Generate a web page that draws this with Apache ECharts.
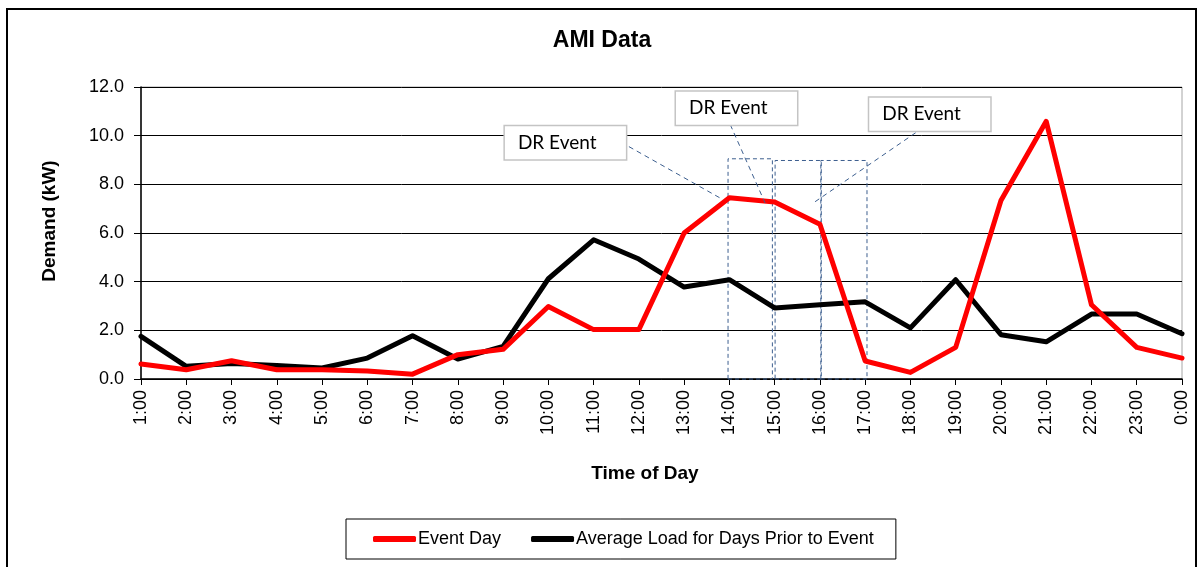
<!DOCTYPE html>
<html>
<head>
<meta charset="utf-8">
<title>AMI Data</title>
<script src="https://cdn.jsdelivr.net/npm/echarts@6/dist/echarts.min.js"></script>
<style>
  html, body { margin: 0; padding: 0; background: #fff; }
  #ami_chart { width: 1204px; height: 567px; }
</style>
</head>
<body>
<div id="ami_chart"></div>
<script>
// hours on the x axis
const hours = ["1:00", "2:00", "3:00", "4:00", "5:00", "6:00", "7:00", "8:00", "9:00", "10:00", "11:00", "12:00",
  "13:00", "14:00", "15:00", "16:00", "17:00", "18:00", "19:00", "20:00", "21:00", "22:00", "23:00", "0:00"];

// demand in kW
const eventDay = [0.62, 0.38, 0.75, 0.38, 0.38, 0.33, 0.2, 1.0, 1.22, 2.98, 2.03, 2.03,
  6.0, 7.45, 7.27, 6.36, 0.74, 0.27, 1.3, 7.34, 10.59, 3.05, 1.3, 0.86];
const priorAvg = [1.75, 0.52, 0.64, 0.56, 0.45, 0.86, 1.78, 0.82, 1.34, 4.12, 5.72, 4.93,
  3.78, 4.08, 2.92, 3.05, 3.17, 2.1, 4.08, 1.82, 1.53, 2.67, 2.67, 1.86];

const yTicks = [0, 12, 2]; // min, max, step

// "DR Event" callouts, in hour-index / kW units (left edge, vertical middle)
const drBoxes = [[8.04, 9.71], [11.82, 11.13], [16.09, 10.88]];
const drLeaders = [
  [[10.78, 9.55], [12.86, 7.37]],
  [[13.02, 10.45], [13.79, 7.23]],
  [[17.28, 10.33], [14.85, 7.23]]
];
const drWindows = [[12.97, 13.95, 9.05], [14.01, 15.03, 8.98], [15.02, 16.04, 8.98]];

const font = "'Liberation Sans', Arial, sans-serif";
const dashColor = "#3d5f8f";

const chartDom = document.getElementById("ami_chart");
const myChart = echarts.init(chartDom);

const option = {
  animation: false,
  backgroundColor: "#fff",
  title: {
    text: "AMI Data",
    left: "center",
    top: 24,
    textStyle: { fontFamily: font, fontSize: 23, fontWeight: "bold", color: "#000" }
  },
  legend: {
    data: ["Event Day", "Average Load for Days Prior to Event"],
    left: 346,
    top: 519,
    padding: [11, 22, 11, 27],
    itemGap: 30,
    itemWidth: 43,
    itemHeight: 6,
    icon: "roundRect",
    borderColor: "#000",
    borderWidth: 1,
    textStyle: { fontFamily: font, fontSize: 18, color: "#000", padding: [0, 0, 0, -3] }
  },
  grid: {
    left: 141, right: 22, top: 87, bottom: 188,
    show: true, borderColor: "#a6a6a6", borderWidth: 1
  },
  xAxis: [
    {
      type: "category",
      data: hours,
      boundaryGap: false,
      axisLine: { lineStyle: { color: "#000", width: 1.5 } },
      axisTick: { alignWithLabel: true, length: 6, lineStyle: { color: "#000" } },
      axisLabel: { rotate: 90, margin: 11, fontFamily: font, fontSize: 18, color: "#000" },
      splitLine: { show: false }
    },
    { type: "value", min: 0, max: 23, show: false }
  ],
  yAxis: {
    type: "value",
    min: yTicks[0],
    max: yTicks[1],
    interval: yTicks[2],
    axisLine: { show: true, lineStyle: { color: "#000", width: 1.5 } },
    axisTick: { show: true, length: 7, lineStyle: { color: "#000" } },
    axisLabel: { margin: 17, fontFamily: font, fontSize: 18, color: "#000", formatter: (v) => v.toFixed(1) },
    splitLine: { lineStyle: { color: "#000", width: 1 } }
  },
  graphic: [
    {
      type: "rect",
      shape: { x: 7, y: 9, width: 1189, height: 600 },
      style: { fill: "none", stroke: "#000", lineWidth: 2 },
      silent: true
    },
    {
      type: "text",
      x: 50, y: 221,
      rotation: Math.PI / 2,
      style: { text: "Demand (kW)", font: "bold 19px " + font, fill: "#000", align: "center", verticalAlign: "middle" }
    },
    {
      type: "text",
      x: 645, y: 474,
      style: { text: "Time of Day", font: "bold 19px " + font, fill: "#000", align: "center", verticalAlign: "middle" }
    }
  ],
  series: [
    {
      name: "Event Day",
      type: "line",
      data: eventDay,
      showSymbol: false,
      z: 4,
      itemStyle: { color: "#ff0000" },
      lineStyle: { color: "#ff0000", width: 5, join: "round", cap: "round" }
    },
    {
      name: "Average Load for Days Prior to Event",
      type: "line",
      data: priorAvg,
      showSymbol: false,
      z: 3,
      itemStyle: { color: "#000" },
      lineStyle: { color: "#000", width: 5, join: "round", cap: "round" }
    },
    {
      // callouts only, no line of its own
      name: "annotations",
      type: "line",
      xAxisIndex: 1,
      data: [],
      silent: true,
      markArea: {
        silent: true,
        itemStyle: { color: "rgba(0,0,0,0)", borderColor: dashColor, borderWidth: 1, borderType: [4, 3] },
        data: drWindows.map((w) => [{ coord: [w[0], -0.06] }, { coord: [w[1], w[2]] }])
      },
      markLine: {
        silent: true,
        symbol: ["none", "none"],
        label: { show: false },
        lineStyle: { color: dashColor, width: 1, type: [5, 4] },
        data: drLeaders.map((l) => [{ coord: l[0] }, { coord: l[1] }])
      },
      markPoint: {
        silent: true,
        symbol: "rect",
        symbolSize: 0,
        label: {
          show: true,
          position: "inside",
          formatter: "DR Event",
          fontFamily: "Lato, 'Open Sans', sans-serif",
          fontSize: 19,
          color: "#000",
          backgroundColor: "#fff",
          borderColor: "#c4c4c4",
          borderWidth: 1.5,
          width: 108,
          lineHeight: 21,
          align: "left",
          padding: [6, 0, 6, 13]
        },
        data: drBoxes.map((b) => ({ coord: b }))
      }
    }
  ]
};

myChart.setOption(option);
</script>
</body>
</html>
